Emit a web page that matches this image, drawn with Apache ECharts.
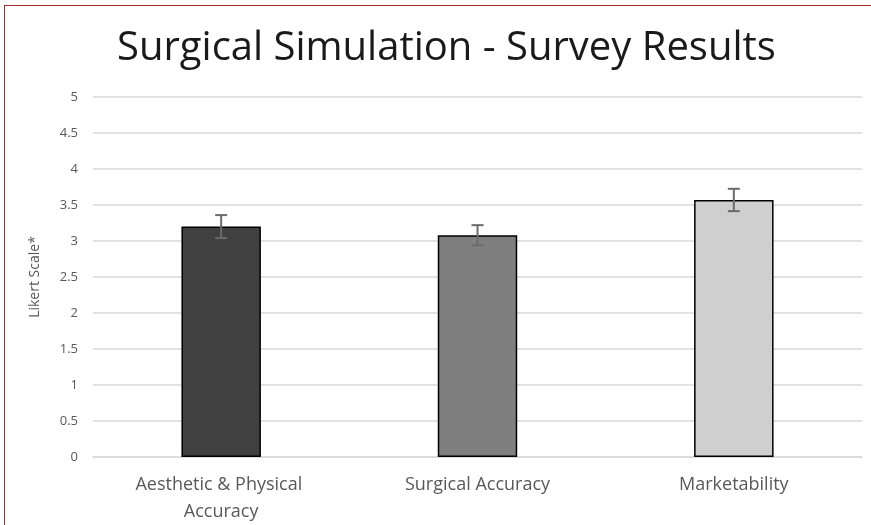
<!DOCTYPE html>
<html><head><meta charset="utf-8">
<script src="https://cdn.jsdelivr.net/npm/echarts@6/dist/echarts.min.js"></script>
<style>
html,body{margin:0;padding:0;background:#fff;}
#c{width:871px;height:525px;}
#frame{position:absolute;left:4px;top:5px;width:867px;height:520px;border-left:1.5px solid #a03030;border-top:1.5px solid #a03030;pointer-events:none;}
</style></head>
<body>
<div id="c"></div>
<div id="frame"></div>
<script>
const categories = ['Aesthetic & Physical Accuracy', 'Surgical Accuracy', 'Marketability'];
const means = [3.2, 3.08, 3.57];
const errors = [0.16, 0.14, 0.155];
const barColors = ['#404040', '#7f7f7f', '#d0cfd0'];
const yTicks = { min: 0, max: 5, interval: 0.5 };

const chart = echarts.init(document.getElementById('c'));
chart.setOption({
  animation: false,
  backgroundColor: '#fff',
  title: {
    text: 'Surgical Simulation - Survey Results',
    left: 112, top: 24,
    textStyle: { fontFamily: 'Open Sans', fontSize: 40, fontWeight: 'normal', color: '#1a1a1a' }
  },
  grid: { left: 93, right: 9, top: 97, bottom: 68, containLabel: false },
  xAxis: {
    type: 'category', data: categories,
    axisLine: { lineStyle: { color: '#d9d9d9', width: 1.5 } },
    axisTick: { show: false },
    axisLabel: {
      interval: 0,
      color: '#595959', fontFamily: 'Open Sans', fontSize: 18, margin: 14, lineHeight: 27,
      width: 200, overflow: 'break'
    }
  },
  yAxis: {
    type: 'value', min: yTicks.min, max: yTicks.max, interval: yTicks.interval,
    name: 'Likert Scale*', nameLocation: 'middle', nameGap: 51,
    nameTextStyle: { color: '#595959', fontFamily: 'Open Sans', fontSize: 14 },
    axisLine: { show: false }, axisTick: { show: false },
    axisLabel: { color: '#595959', fontFamily: 'Open Sans', fontSize: 13, margin: 15 },
    splitLine: { lineStyle: { color: '#d9d9d9', width: 1.5 } }
  },
  series: [
    {
      type: 'bar', barWidth: '31%',
      data: means.map((v, i) => ({ value: v, itemStyle: { color: barColors[i] } })),
      itemStyle: { borderColor: '#000', borderWidth: 1.5 }
    },
    {
      type: 'custom', z: 10,
      data: means.map((v, i) => [i, v - errors[i], v + errors[i]]),
      renderItem: function (params, api) {
        const lo = api.coord([api.value(0), api.value(1)]);
        const hi = api.coord([api.value(0), api.value(2)]);
        const hw = 6;
        const st = { stroke: '#6b6b6b', lineWidth: 2 };
        return { type: 'group', children: [
          { type: 'line', shape: { x1: hi[0], y1: hi[1], x2: lo[0], y2: lo[1] }, style: st },
          { type: 'line', shape: { x1: hi[0]-hw, y1: hi[1], x2: hi[0]+hw, y2: hi[1] }, style: st },
          { type: 'line', shape: { x1: lo[0]-hw, y1: lo[1], x2: lo[0]+hw, y2: lo[1] }, style: st }
        ]};
      }
    }
  ]
});
</script>
</body></html>
